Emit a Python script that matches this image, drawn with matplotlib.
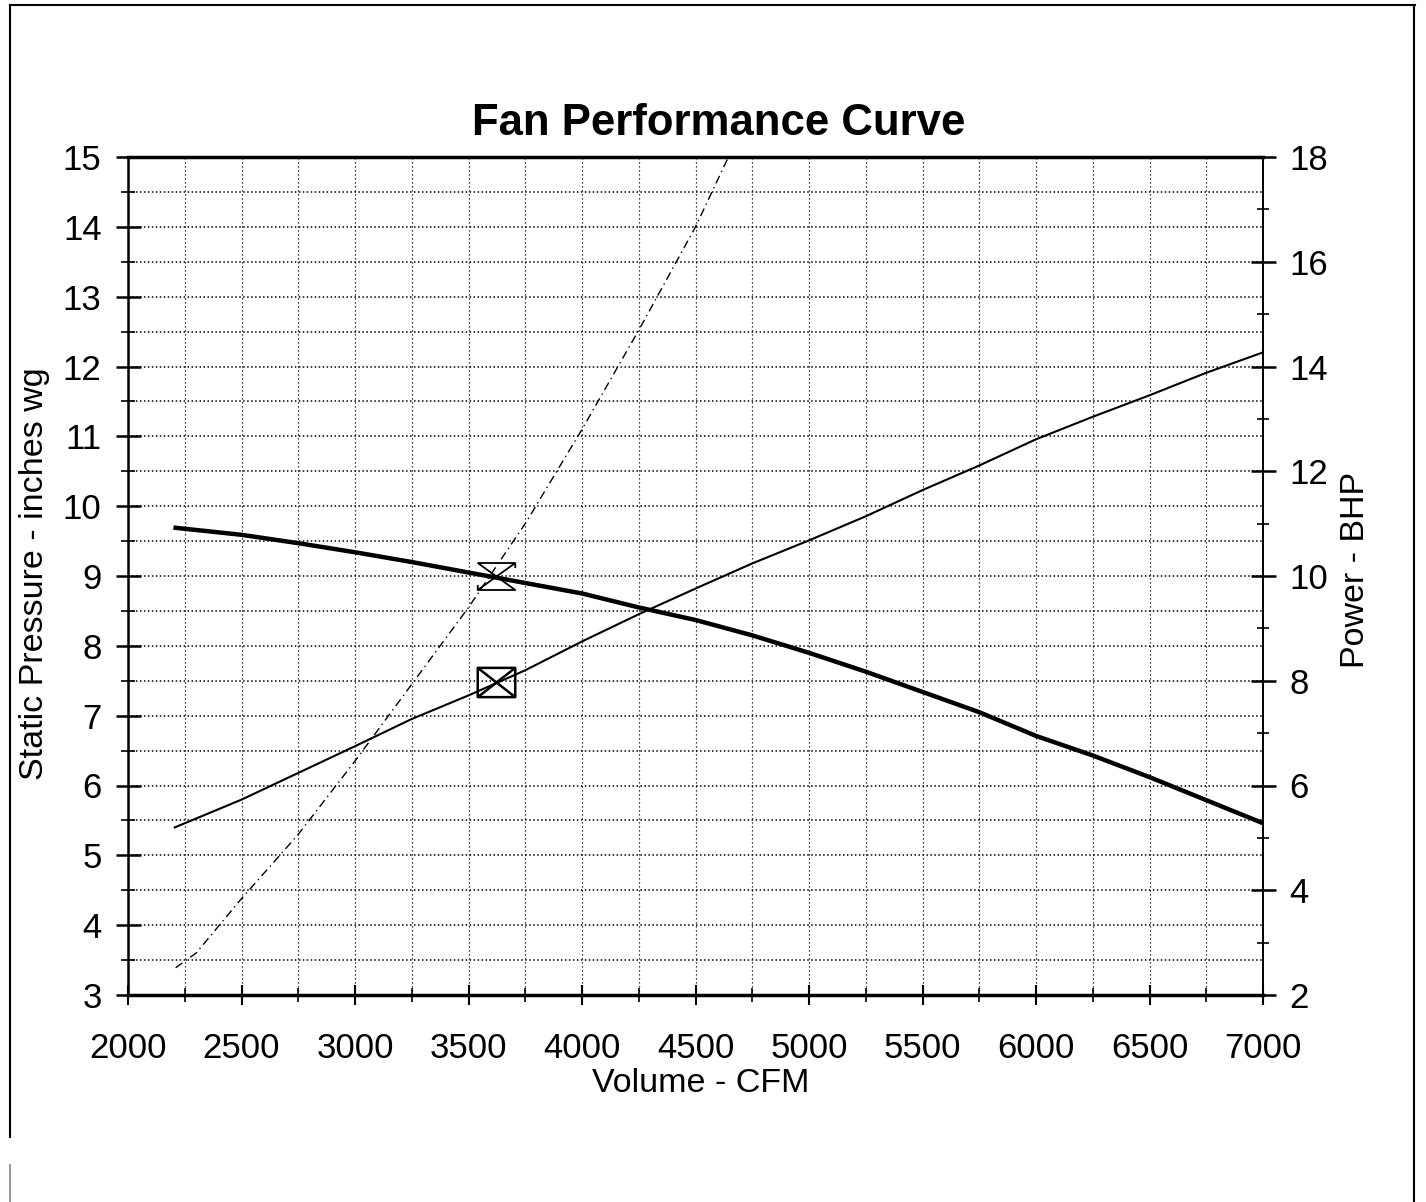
import matplotlib
matplotlib.use("Agg")
import matplotlib.pyplot as plt
from matplotlib.lines import Line2D
from matplotlib.path import Path
from matplotlib.ticker import MultipleLocator

plt.rcParams['font.family'] = ['Liberation Sans', 'DejaVu Sans']

# ---- data ----
fan_cfm = [2210, 2500, 2750, 3000, 3250, 3500, 3750, 4000, 4250, 4500, 4750,
           5000, 5250, 5500, 5750, 6000, 6250, 6500, 6750, 7000]
fan_sp = [9.69, 9.59, 9.47, 9.34, 9.20, 9.05, 8.90, 8.75, 8.55, 8.37, 8.15,
          7.90, 7.63, 7.34, 7.05, 6.71, 6.43, 6.12, 5.79, 5.46]

power_cfm = [2206, 2500, 2750, 3000, 3250, 3500, 3750, 4000, 4250, 4500, 4750,
             5000, 5250, 5500, 5750, 6000, 6250, 6500, 6750, 7000]
power_bhp = [5.20, 5.73, 6.24, 6.75, 7.27, 7.72, 8.20, 8.75, 9.27, 9.76, 10.24,
             10.68, 11.14, 11.64, 12.11, 12.61, 13.04, 13.45, 13.88, 14.27]

system_cfm = [2210, 2300, 2500, 2750, 3000, 3250, 3500, 3750, 4000, 4250, 4500, 4645]
system_sp = [3.39, 3.60, 4.38, 5.30, 6.35, 7.45, 8.55, 9.75, 11.10, 12.52, 14.00, 15.00]

op_cfm = 3620
op_sp = 9.0
op_bhp = 7.97

title = "Fan Performance Curve"
xlabel = "Volume - CFM"
ylabel_left = "Static Pressure - inches wg"
ylabel_right = "Power - BHP"

# ---- figure ----
W, H = 1426, 1202
fig = plt.figure(figsize=(W / 100, H / 100), dpi=100)
ax = fig.add_axes([128 / W, 1 - 995 / H, (1263 - 128) / W, (995 - 157) / H])
ax2 = ax.twinx()

ax.set_xlim(2000, 7000)
ax.set_ylim(3, 15)
ax2.set_ylim(2, 18)

ax.xaxis.set_major_locator(MultipleLocator(500))
ax.xaxis.set_minor_locator(MultipleLocator(250))
ax.yaxis.set_major_locator(MultipleLocator(1))
ax.yaxis.set_minor_locator(MultipleLocator(0.5))
ax2.yaxis.set_major_locator(MultipleLocator(2))
ax2.yaxis.set_minor_locator(MultipleLocator(1))

ax.grid(True, which='both', axis='x', color='black', linestyle=(0, (1, 2.2)), linewidth=0.9)
ax.grid(True, which='both', axis='y', color='black', linestyle=(0, (1, 1.6)), linewidth=1.1)
ax.set_axisbelow(True)

# curves
ax.plot(fan_cfm, fan_sp, color='black', linewidth=3.2, solid_joinstyle='round', zorder=4)
ax.plot(system_cfm, system_sp, color='black', linewidth=1.0,
        linestyle=(0, (6, 3, 1, 3)), zorder=3)
ax2.plot(power_cfm, power_bhp, color='black', linewidth=1.5, zorder=4)

# markers: hourglass-like (pressure) and boxed X (power)
hour = Path([(-1, 0.72), (1, 0.72), (-1, -0.72), (1, -0.72), (-1, 0.72),
             (-1, -0.45), (-1, -0.72), (1, 0.72), (1, 0.45)],
            [Path.MOVETO, Path.LINETO, Path.LINETO, Path.LINETO, Path.LINETO,
             Path.MOVETO, Path.LINETO, Path.MOVETO, Path.LINETO])
boxx = Path([(-1, -0.78), (1, -0.78), (1, 0.78), (-1, 0.78), (-1, -0.78),
             (-1, -0.78), (1, 0.78), (-1, 0.78), (1, -0.78)],
            [Path.MOVETO, Path.LINETO, Path.LINETO, Path.LINETO, Path.CLOSEPOLY,
             Path.MOVETO, Path.LINETO, Path.MOVETO, Path.LINETO])
ax.plot([op_cfm], [op_sp], marker=hour, markersize=27, markerfacecolor='none',
        markeredgecolor='black', markeredgewidth=1.3, linestyle='none', zorder=5)
ax2.plot([op_cfm], [op_bhp], marker=boxx, markersize=27, markerfacecolor='none',
         markeredgecolor='black', markeredgewidth=1.8, linestyle='none', zorder=5)

# spines
ax.spines['top'].set_linewidth(2.5)
ax.spines['bottom'].set_linewidth(2.5)
ax.spines['left'].set_linewidth(1.8)
ax.spines['right'].set_linewidth(1.3)
for s in ax2.spines.values():
    s.set_visible(False)
ax2.spines['right'].set_visible(True)
ax2.spines['right'].set_linewidth(1.3)

ax.tick_params(axis='x', which='major', direction='inout', length=14, width=1.5,
               labelsize=25, pad=20, top=False)
ax.tick_params(axis='x', which='minor', direction='inout', length=10, width=1.2, top=False)
ax.tick_params(axis='y', which='major', direction='inout', length=18, width=1.8,
               labelsize=25, pad=10)
ax.tick_params(axis='y', which='minor', direction='inout', length=10, width=1.2)
ax2.tick_params(axis='y', which='major', direction='inout', length=18, width=1.8,
                labelsize=25, pad=10)
ax2.tick_params(axis='y', which='minor', direction='inout', length=8, width=1.2)

ax.set_title(title, fontsize=31.5, fontweight='bold', pad=16, x=(719 - 128) / 1135)
ax.set_xlabel(xlabel, fontsize=24.5)
ax.set_ylabel(ylabel_left, fontsize=24.5)
ax2.set_ylabel(ylabel_right, fontsize=24.5)

# label positions (axes-fraction coordinates)
ax.xaxis.set_label_coords((701 - 128) / 1135, (995 - 1083) / 838)
ax.yaxis.set_label_coords((35 - 128) / 1135, (995 - 574) / 838)
ax2.yaxis.set_label_coords((1356 - 128) / 1135, (995 - 570) / 838)
ax.xaxis.label.set_verticalalignment('center')
ax.yaxis.label.set_verticalalignment('center')
ax2.yaxis.label.set_verticalalignment('center')

# outer frame
fx = lambda px: px / W
fy = lambda py: 1 - py / H
fig.add_artist(Line2D([fx(10), fx(1415)], [fy(5), fy(5)], color='black', linewidth=1.5))
fig.add_artist(Line2D([fx(10), fx(10)], [fy(5), fy(1137)], color='black', linewidth=1.5))
fig.add_artist(Line2D([fx(10), fx(10)], [fy(1165), fy(1202)], color='#888888', linewidth=1.2))
fig.add_artist(Line2D([fx(1414), fx(1414)], [fy(5), fy(1202)], color='black', linewidth=1.5))

fig.savefig("out.png", dpi=100, facecolor='white')
